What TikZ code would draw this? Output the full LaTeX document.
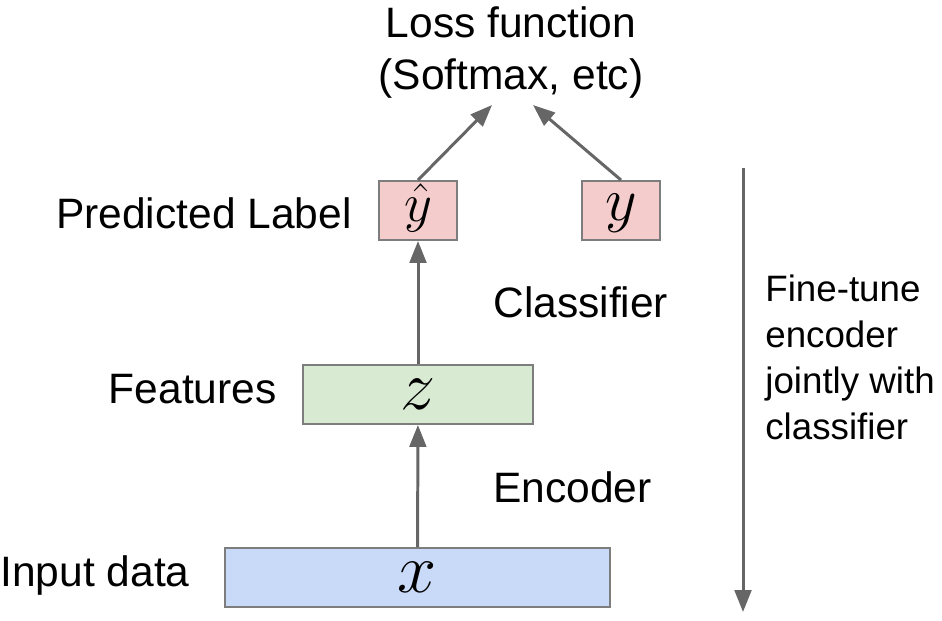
\RequirePackage{fix-cm}
\documentclass[tikz,border=0pt]{standalone}
\usepackage{fontspec}
\setmainfont{Liberation Sans}
\usepackage{amsmath}
\usepackage{xcolor}
\usepackage{tikz}
\usetikzlibrary{arrows.meta, positioning}
\definecolor{ArrowGray}{RGB}{102,102,102}
\definecolor{BoxGray}{RGB}{125,125,125}
\definecolor{InBlue}{RGB}{201,218,248}
\definecolor{FeatGreen}{RGB}{217,234,211}
\definecolor{LabelRed}{RGB}{244,204,204}
\tikzset{
  % Boxes
  box/.style={draw=BoxGray,line width=1.1pt,inner sep=0pt,minimum height=1.18cm,
    text height=24pt,text depth=6.4pt,font=\fontsize{40}{46}\selectfont},
  box in/.style={box,fill=InBlue},
  box feat/.style={box,fill=FeatGreen},
  box label/.style={box,fill=LabelRed,minimum width=1.56cm,
    text height=20pt,text depth=9pt,font=\fontsize{35}{40}\selectfont},
  % Text
  txt/.style={inner sep=0pt,font=\fontsize{24.2}{30}\selectfont},
  txt small/.style={inner sep=0pt,font=\fontsize{20.9}{26.1}\selectfont},
  % Arrows
  connect arrow/.style={-{Triangle[length=12.5pt,width=9.5pt]},line width=1.7pt,ArrowGray}
}

\begin{document}
\begin{tikzpicture}[x=0.02cm,y=-0.02cm]
  \useasboundingbox (0,0) rectangle (942,620);
  % boxes
  \node[box in,minimum width=7.7cm] (X) at (417.5,577.5) {$x$};
  \node[box feat,minimum width=4.6cm] (Z) at (418,394.5) {$z$};
  \node[box label,text height=18pt,text depth=5pt,font=\fontsize{31}{36}\selectfont] (Yhat) at (418,210.5) {$\hat{y}$};
  \node[box label] (Y) at (621,210.5) {$y$};
  % labels
  \node[txt,anchor=base east] (predlab) at (352,228) {Predicted Label};
  \node[txt,anchor=base east] (featlab) at (277,403) {Features};
  \node[txt,anchor=base east] (inlab) at (190,586) {Input data};
  \node[txt,anchor=base west] (clslab) at (493,317) {Classifier};
  \node[txt,anchor=base west] (enclab) at (493,502) {Encoder};
  \node[txt,align=center] (loss) at (511,52.5) {Loss function\\(Softmax, etc)};
  \coordinate (lossL) at (492,105);
  \coordinate (lossR) at (533,105);
  % arrows
  \draw[connect arrow] (X) -- (Z);
  \draw[connect arrow] (Z) -- (Yhat);
  \draw[connect arrow] (Yhat.north) -- (lossL);
  \draw[connect arrow] (Y.north) -- (lossR);
  % fine-tune
  \coordinate (ftTop) at (743,168);
  \coordinate (ftBot) at (743,612);
  \draw[connect arrow] (ftTop) -- (ftBot);
  \node[txt small,align=left,anchor=west] (ftlab) at (765,357.5) {Fine-tune\\encoder\\jointly with\\classifier};
\end{tikzpicture}
\end{document}
